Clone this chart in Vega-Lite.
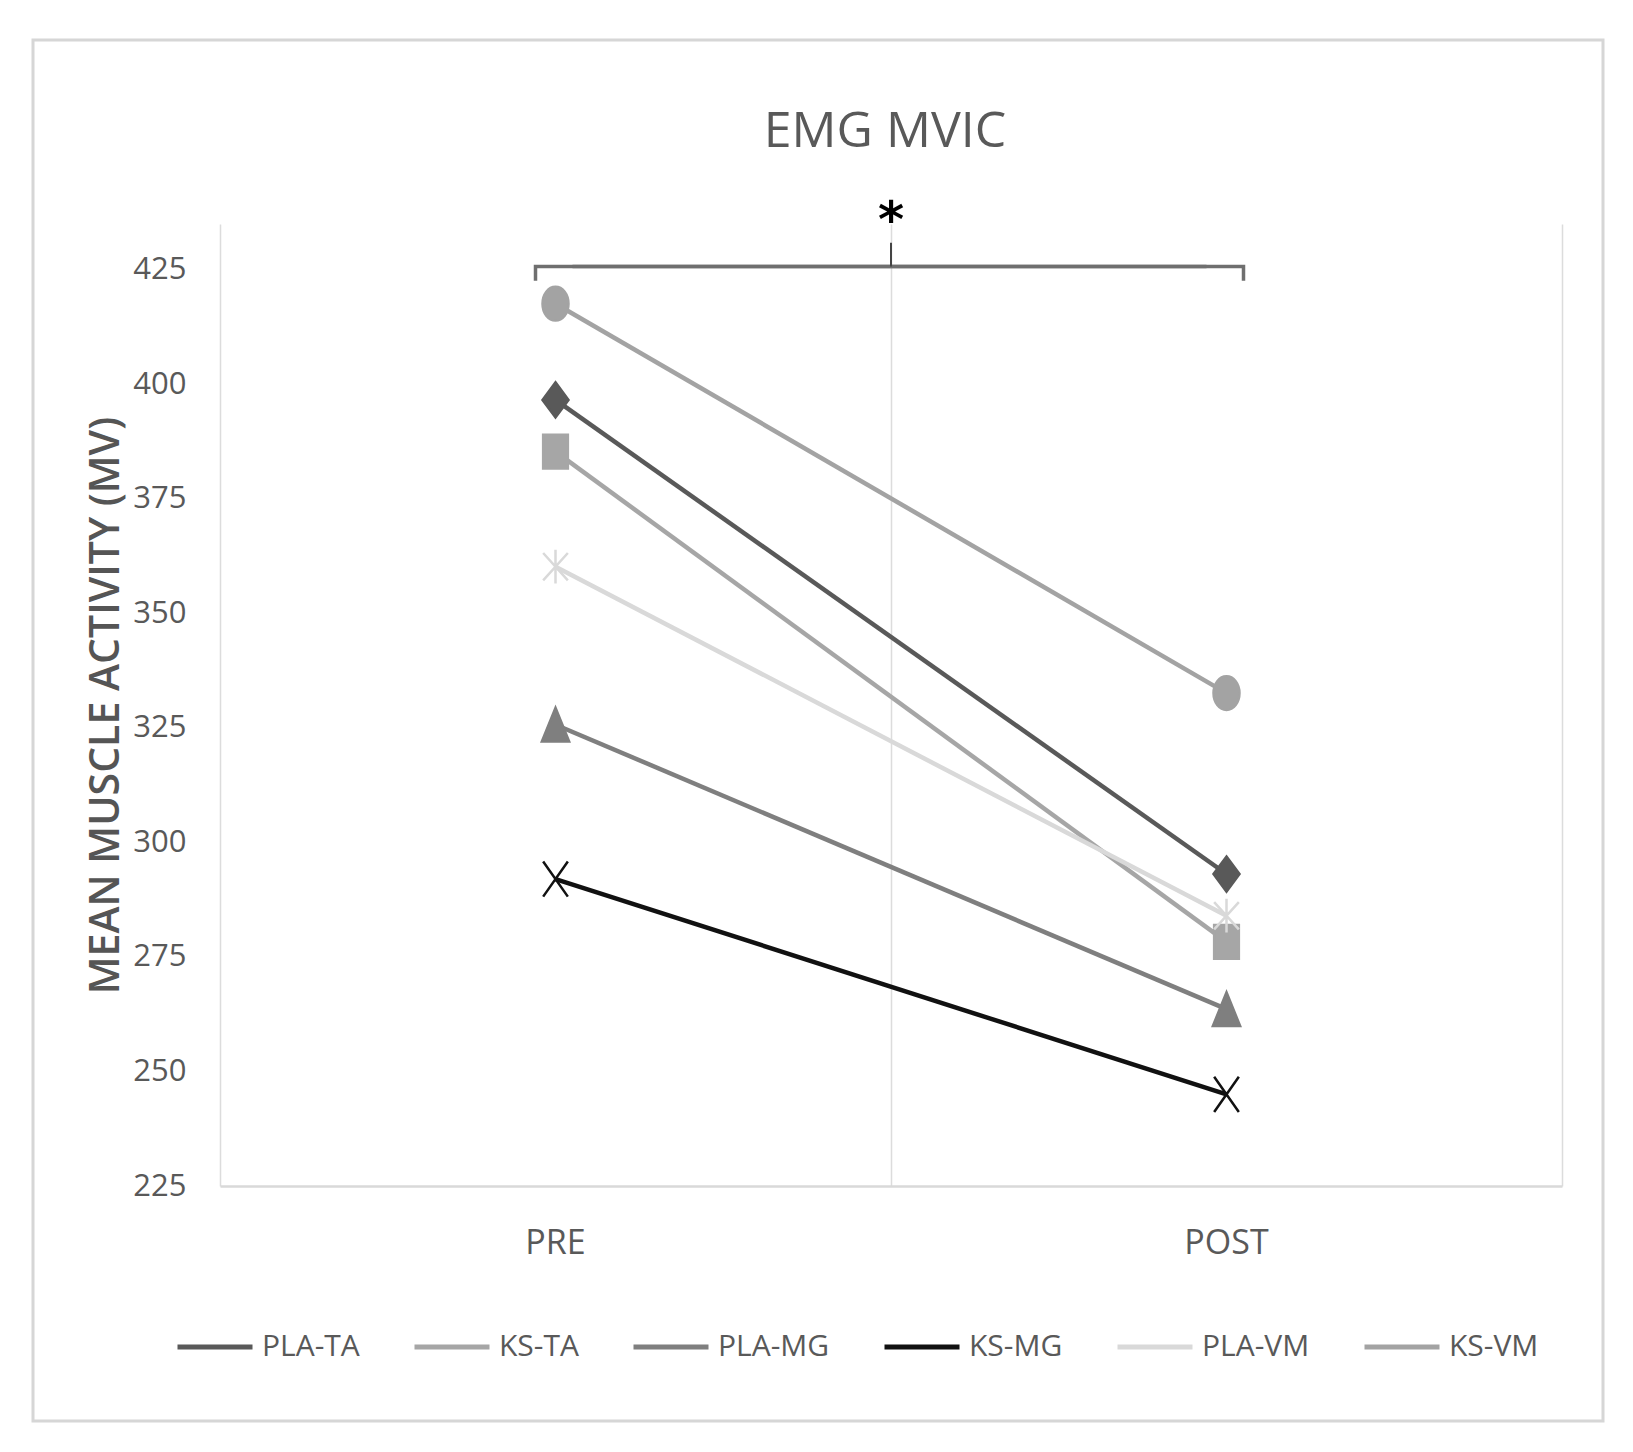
{
  "$schema": "https://vega.github.io/schema/vega-lite/v6.json",
  "autosize": "none",
  "width": 1570,
  "height": 1381,
  "padding": {"left": 33, "top": 40, "right": 30, "bottom": 31},
  "background": "white",
  "config": {
    "view": {"stroke": "#d6d6d6", "strokeWidth": 3},
    "font": "Open Sans",
    "legend": {
      "orient": "none", "legendX": 142, "legendY": 1267, "direction": "horizontal",
      "title": null, "padding": 0,
      "symbolSize": 5625, "symbolStrokeWidth": 5,
      "labelFontSize": 30, "labelFont": "Open Sans", "labelColor": "#595959",
      "labelOffset": 7, "columnPadding": 44
    }
  },
  "title": {
    "text": "EMG MVIC",
    "frame": "group",
    "anchor": "middle",
    "offset": -157,
    "baseline": "alphabetic",
    "dx": 67,
    "fontSize": 50,
    "font": "Open Sans",
    "fontWeight": "normal",
    "color": "#595959"
  },
  "resolve": {"axis": {"x": "independent"}},
  "datasets": {
    "series": [
      {"series": "PLA-TA", "time": "PRE", "value": 396.6},
      {"series": "PLA-TA", "time": "POST", "value": 293.1},
      {"series": "KS-TA", "time": "PRE", "value": 385.3},
      {"series": "KS-TA", "time": "POST", "value": 278.3},
      {"series": "PLA-MG", "time": "PRE", "value": 325.7},
      {"series": "PLA-MG", "time": "POST", "value": 263.6},
      {"series": "KS-MG", "time": "PRE", "value": 292.0},
      {"series": "KS-MG", "time": "POST", "value": 245.0},
      {"series": "PLA-VM", "time": "PRE", "value": 360.2},
      {"series": "PLA-VM", "time": "POST", "value": 284.0},
      {"series": "KS-VM", "time": "PRE", "value": 417.6},
      {"series": "KS-VM", "time": "POST", "value": 332.6}
    ],
    "bracketLeft": [
      {"time": "PRE", "value": 422.6, "i": 0},
      {"time": "PRE", "value": 425.7, "i": 1},
      {"time": "POST", "value": 425.7, "i": 2}
    ],
    "bracketRight": [
      {"time": "PRE", "value": 425.7, "i": 0},
      {"time": "POST", "value": 425.7, "i": 1},
      {"time": "POST", "value": 422.6, "i": 2}
    ],
    "signif": [
      {"time": "POST", "low": 425.7, "high": 430.9, "star": 438.1, "label": "*"}
    ]
  },
  "layer": [
    {
      "data": {"name": "series"},
      "mark": {"type": "line", "strokeWidth": 4.5},
      "encoding": {
        "x": {
          "field": "time", "type": "nominal", "bandPosition": 0.5,
          "scale": {"type": "band", "domain": ["PRE", "POST"], "range": [187, 1529], "paddingInner": 0, "paddingOuter": 0},
          "axis": {
            "orient": "bottom", "offset": -235, "title": null,
            "domain": true, "domainColor": "#d9d9d9", "domainWidth": 2.5,
            "ticks": false, "grid": false, "labelAngle": 0,
            "labelFontSize": 34, "labelColor": "#595959", "labelFont": "Open Sans",
            "labelPadding": 57, "labelBaseline": "middle"
          }
        },
        "y": {
          "field": "value", "type": "quantitative",
          "scale": {"domain": [225, 435], "range": [1146, 184], "nice": false, "zero": false},
          "axis": {
            "orient": "left", "offset": -187,
            "values": [225, 250, 275, 300, 325, 350, 375, 400, 425],
            "domain": false, "ticks": false, "grid": false,
            "labelPadding": 34, "labelFontSize": 31, "labelColor": "#595959", "labelFont": "Open Sans",
            "title": "MEAN MUSCLE ACTIVITY (MV)",
            "titleFont": "Open Sans", "titleFontSize": 41, "titleFontWeight": 600, "titleColor": "#555555",
            "titleX": -114, "titleBaseline": "middle", "titleAngle": -90
          }
        },
        "color": {
          "field": "series", "type": "nominal",
          "scale": {
            "domain": ["PLA-TA", "KS-TA", "PLA-MG", "KS-MG", "PLA-VM", "KS-VM"],
            "range": ["#595959", "#a6a6a6", "#7f7f7f", "#111111", "#d9d9d9", "#a3a3a3"]
          }
        },
        "detail": {"field": "series", "type": "nominal"}
      }
    },
    {
      "data": {"name": "series"},
      "mark": {"type": "point", "filled": true, "opacity": 1, "strokeWidth": 2.5, "size": 676},
      "encoding": {
        "x": {
          "field": "time", "type": "nominal", "bandPosition": 0.5,
          "axis": {
            "orient": "top", "offset": 0, "title": null, "labels": false,
            "domain": false, "ticks": false, "grid": true, "tickBand": "extent",
            "gridColor": "#dcdcdc", "gridWidth": 1.5
          }
        },
        "y": {"field": "value", "type": "quantitative"},
        "color": {
          "field": "series", "type": "nominal",
          "legend": {"symbolType": "stroke", "symbolSize": 5625, "symbolStrokeWidth": 5}
        },
        "stroke": {
          "field": "series", "type": "nominal",
          "scale": {
            "domain": ["PLA-TA", "KS-TA", "PLA-MG", "KS-MG", "PLA-VM", "KS-VM"],
            "range": ["#595959", "#a6a6a6", "#7f7f7f", "#111111", "#d9d9d9", "#a3a3a3"]
          }
        },
        "shape": {
          "field": "series", "type": "nominal",
          "legend": null,
          "scale": {
            "domain": ["KS-MG", "KS-TA", "KS-VM", "PLA-MG", "PLA-TA", "PLA-VM"],
            "range": [
              "M-0.95,-1.35L0.95,1.35M0.95,-1.35L-0.95,1.35",
              "M-0.95,-1.3H0.95V1.3H-0.95Z",
              "M1,0A1,1.3 0 1,1 -1,0A1,1.3 0 1,1 1,0Z",
              "M0,-1.3L1.05,1.3H-1.05Z",
              "M0,-1.35L1,0L0,1.35L-1,0Z",
              "M0,-1.3V1.3M-0.95,-1.05L0.95,1.05M-0.95,1.05L0.95,-1.05"
            ]
          }
        }
      }
    },
    {
      "data": {"name": "bracketLeft"},
      "mark": {"type": "line", "color": "#6f6f6f", "strokeWidth": 3.5, "xOffset": -20},
      "encoding": {
        "x": {"field": "time", "type": "nominal", "bandPosition": 0.5, "axis": null},
        "y": {"field": "value", "type": "quantitative"},
        "order": {"field": "i", "type": "quantitative"}
      }
    },
    {
      "data": {"name": "bracketRight"},
      "mark": {"type": "line", "color": "#6f6f6f", "strokeWidth": 3.5, "xOffset": 17},
      "encoding": {
        "x": {"field": "time", "type": "nominal", "bandPosition": 0.5, "axis": null},
        "y": {"field": "value", "type": "quantitative"},
        "order": {"field": "i", "type": "quantitative"}
      }
    },
    {
      "data": {"name": "signif"},
      "mark": {"type": "rule", "color": "#444444", "strokeWidth": 2},
      "encoding": {
        "x": {"field": "time", "type": "nominal", "bandPosition": 0, "axis": null},
        "y": {"field": "low", "type": "quantitative"},
        "y2": {"field": "high"}
      }
    },
    {
      "data": {"name": "signif"},
      "mark": {"type": "text", "font": "DejaVu Sans", "fontWeight": "bold", "fontSize": 50, "color": "#000000", "baseline": "middle", "align": "center", "dy": 12},
      "encoding": {
        "x": {"field": "time", "type": "nominal", "bandPosition": 0, "axis": null},
        "y": {"field": "star", "type": "quantitative"},
        "text": {"field": "label"}
      }
    }
  ]
}
